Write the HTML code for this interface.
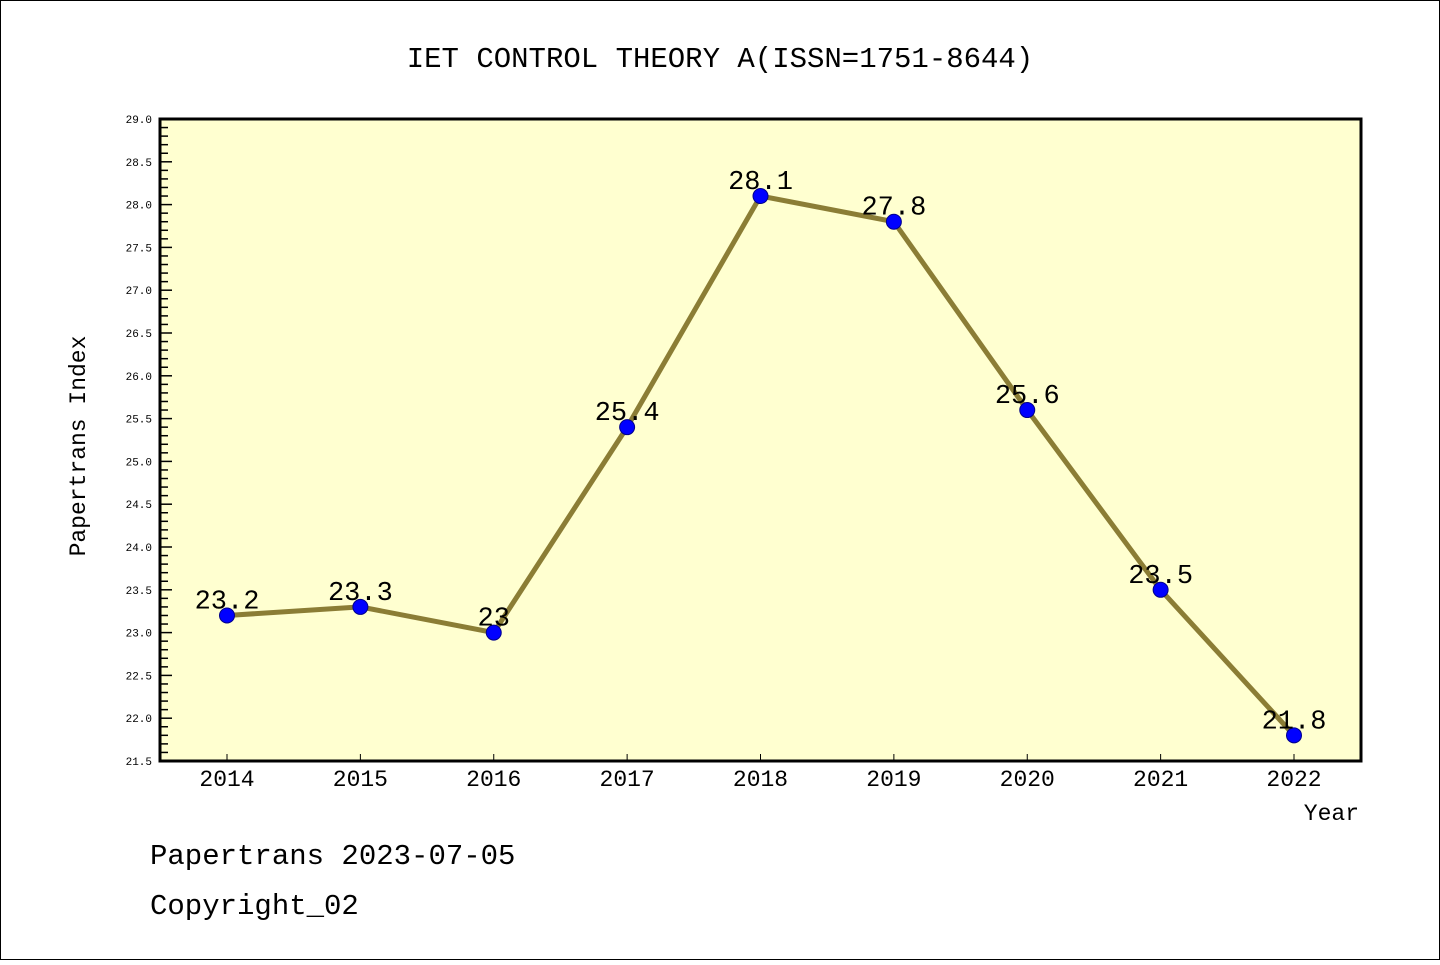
<!DOCTYPE html>
<html><head><meta charset="utf-8"><style>
body{margin:0;background:#fff}
svg text{font-family:"WenQuanYi Zen Hei","Liberation Mono",monospace}
</style></head><body>
<svg id="c" width="1440" height="960" xmlns="http://www.w3.org/2000/svg">
<rect x="0.5" y="0.5" width="1439" height="959" fill="#fff" stroke="#000"/>
<text x="720" y="67" font-size="29" text-anchor="middle">IET CONTROL THEORY A(ISSN=1751-8644)</text>
<rect x="160" y="119" width="1201" height="642" fill="#ffffd0"/>
<g id="ax"></g>
<g id="marks"></g>
<rect x="160" y="119" width="1201" height="642" fill="none" stroke="#000" stroke-width="3"/>
<text transform="translate(85,446) rotate(-90)" font-size="23" text-anchor="middle">Papertrans Index</text>
<text x="1359" y="820" font-size="23" text-anchor="end">Year</text>
<text x="150" y="864" font-size="29">Papertrans 2023-07-05</text>
<text x="150" y="914" font-size="29">Copyright_02</text>
</svg>
<script>
const years=["2014","2015","2016","2017","2018","2019","2020","2021","2022"];
const values=[23.2,23.3,23.0,25.4,28.1,27.8,25.6,23.5,21.8];
const labels=["23.2","23.3","23","25.4","28.1","27.8","25.6","23.5","21.8"];
const yTicks=["21.5","22.0","22.5","23.0","23.5","24.0","24.5","25.0","25.5","26.0","26.5","27.0","27.5","28.0","28.5","29.0"];
const ns="http://www.w3.org/2000/svg";
const yMin=21.5,yMax=29.0,plotTop=119,plotBot=761;
const yS=v=>plotBot-(v-yMin)/(yMax-yMin)*(plotBot-plotTop);
const xS=i=>227+i*(1294-227)/(years.length-1);
function mk(t,a,p){const e=document.createElementNS(ns,t);for(const k in a)e.setAttribute(k,a[k]);p.appendChild(e);return e;}
const ax=document.getElementById('ax'),mg=document.getElementById('marks');
for(let k=0;k<=75;k++){const v=yMin+k*0.1,yy=yS(v);const maj=k%5===0;
 const l=mk('line',{x1:160,x2:maj?172:168,y1:yy,y2:yy,stroke:'#000','stroke-width':1.5},ax);
 
 }
yTicks.forEach(t=>{const e=mk('text',{x:152,y:yS(parseFloat(t))+4,'font-size':11,'text-anchor':'end'},ax);e.textContent=t;
 
 });
years.forEach((t,i)=>{const l=mk('line',{x1:xS(i),x2:xS(i),y1:plotBot,y2:plotBot-7,stroke:'#000','stroke-width':1},ax);
 
 
 const e=mk('text',{x:xS(i),y:786,'font-size':23,'text-anchor':'middle'},ax);e.textContent=t;
 
 });
const pl=mk('polyline',{points:values.map((v,i)=>xS(i)+','+yS(v)).join(' '),fill:'none',stroke:'#8b7d35','stroke-width':5},mg);


values.forEach((v,i)=>{const c=mk('circle',{cx:xS(i),cy:yS(v),r:7.5,fill:'#0000ff',stroke:'#00008b','stroke-width':1},mg);
 
 
 const e=mk('text',{x:xS(i),y:yS(v)-7,'font-size':27,'text-anchor':'middle'},mg);e.textContent=labels[i];
 
 });
</script>
</body></html>
